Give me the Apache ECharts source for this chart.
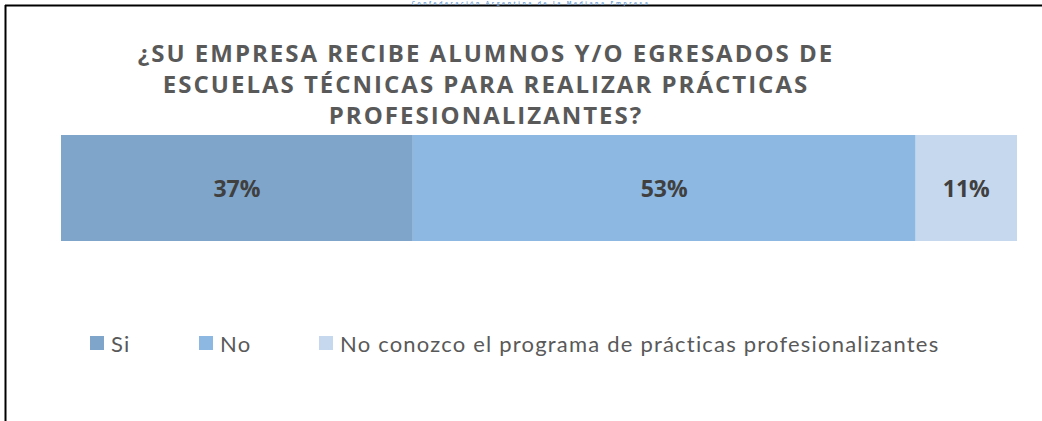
<!DOCTYPE html>
<html><head><meta charset="utf-8">
<script src="https://cdn.jsdelivr.net/npm/echarts@6/dist/echarts.min.js"></script>
<style>
html,body{margin:0;padding:0;background:#fff}
#c{width:1042px;height:421px}
#c text[style*="24px"]{letter-spacing:2px}
#c text[style*="22px"]{letter-spacing:1.2px}
#c text[style*=" 5px"]{letter-spacing:2.6px}
</style>
</head><body><div id="c"></div>
<script>
var seriesNames = ['Si', 'No', 'No conozco el programa de prácticas profesionalizantes'];
var seriesValues = [36.8, 52.6, 10.6];
var seriesColors = ['#7fa5ca', '#8db8e2', '#c5d8ee'];
var categories = [''];
var titleText = '¿SU EMPRESA RECIBE ALUMNOS Y/O EGRESADOS DE\nESCUELAS TÉCNICAS PARA REALIZAR PRÁCTICAS\nPROFESIONALIZANTES?';
var headerText = 'Confederación Argentina de la Mediana Empresa';
var legendLefts = [90, 199, 319];

var total = seriesValues.reduce(function(a,b){return a+b;},0);
var chart = echarts.init(document.getElementById('c'), null, {renderer: 'svg'});
chart.setOption({
  animation: false,
  title: [{
    text: titleText, left: 481, top: 32, textAlign: 'center',
    textStyle: {fontFamily: 'Open Sans', fontWeight: 'bold', fontSize: 24, color: '#595959', lineHeight: 31}
  },{
    text: headerText, left: 531, top: 0, padding: 0, textAlign: 'center',
    textStyle: {fontFamily: 'Open Sans', fontWeight: 'bold', fontSize: 5, lineHeight: 5, color: '#6f9fd4'}
  }],
  grid: {left: 61, right: 25, top: 135, height: 106},
  xAxis: {type: 'value', min: 0, max: total, show: false},
  yAxis: {type: 'category', data: categories, show: false},
  legend: seriesNames.map(function(n, i){
    return {
      data: [n], left: legendLefts[i], top: 332, padding: 0, itemWidth: 14, itemHeight: 14,
      icon: 'rect',
      textStyle: {fontFamily: 'Lato', fontSize: 22, color: '#595959', padding: [0,0,0,2]}
    };
  }),
  series: seriesNames.map(function(n, i){
    return {
      name: n, type: 'bar', stack: 't', barWidth: '100%',
      data: [seriesValues[i]],
      itemStyle: {color: seriesColors[i]},
      label: {show: true, position: 'inside', formatter: function(p){return Math.round(p.value)+'%';},
        fontFamily: 'Open Sans', fontWeight: 'bold', fontSize: 23, color: '#404040'}
    };
  }),
  graphic: [
    {type: 'line', shape: {x1: 5, y1: 5.5, x2: 1042, y2: 5.5}, style: {stroke: '#000', lineWidth: 2}},
    {type: 'line', shape: {x1: 5.5, y1: 5, x2: 5.5, y2: 421}, style: {stroke: '#000', lineWidth: 2}}
  ]
});
</script></body></html>
